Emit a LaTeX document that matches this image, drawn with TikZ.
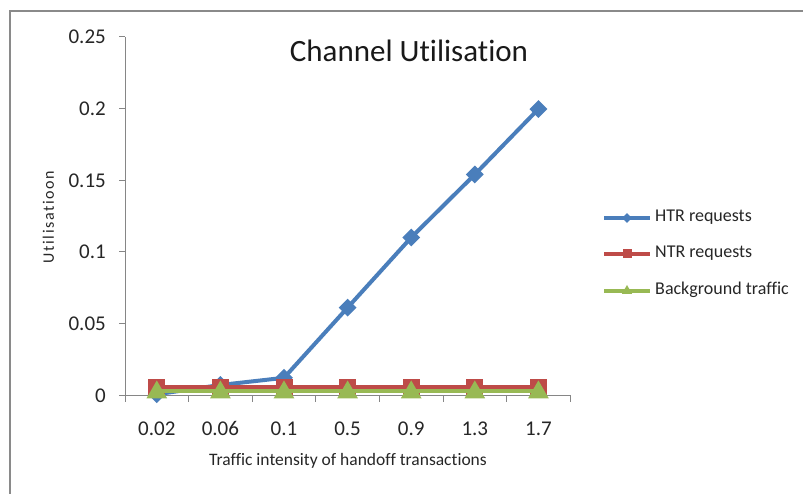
\documentclass[tikz,border=0pt]{standalone}
\usepackage{fontspec}
\setmainfont{Carlito}[Ligatures=NoCommon]
\usetikzlibrary{shapes.geometric,calc}
\definecolor{htr}{HTML}{4A7EBB}
\definecolor{ntr}{HTML}{BE4B48}
\definecolor{bgt}{HTML}{98B954}
\definecolor{axisgray}{HTML}{868686}
\definecolor{framegray}{HTML}{8A8A8A}
\begin{document}
\begin{tikzpicture}[x=1pt,y=-1pt,
  axisline/.style={draw=axisgray,line width=1pt},
  ticklab/.style={font=\fontsize{21}{24}\selectfont,text=black!85,inner sep=0pt},
  serline/.style={line width=4pt,line join=round},
  dmk/.style={diamond,aspect=1,fill=htr,inner sep=0pt,minimum width=18pt,minimum height=18pt},
  smk/.style={rectangle,fill=ntr,inner sep=0pt,minimum size=17pt},
  tmk/.style={regular polygon,regular polygon sides=3,fill=bgt,inner sep=0pt,minimum size=24pt},
  dmks/.style={diamond,aspect=1,fill=htr,inner sep=0pt,minimum width=10pt,minimum height=10pt},
  smks/.style={rectangle,fill=ntr,inner sep=0pt,minimum size=9pt},
  tmks/.style={regular polygon,regular polygon sides=3,fill=bgt,inner sep=0pt,minimum size=12pt},
  legtxt/.style={font=\fontsize{18}{21}\selectfont,anchor=west,inner sep=0pt,text=black!85}]
\useasboundingbox (0,0) rectangle (803,494);
% outer frame
\draw[framegray,line width=2pt] (10,494) -- (10,11) -- (803,11);
% title
\node[font=\fontsize{31}{35}\selectfont,text=black!90] (title) at (409,51) {Channel Utilisation};
% axes
\coordinate (o) at (125,395);
\coordinate (ytop) at (125,37);
\coordinate (xend) at (570,395);
\draw[axisline] (ytop) -- (o) -- (xend);
\foreach \v/\lab [count=\i] in {0/0,0.05/0.05,0.1/0.1,0.15/0.15,0.2/0.2,0.25/0.25}{
  \pgfmathsetmacro{\yy}{395-\v*1432}
  \draw[axisline] (119,\yy) -- (125,\yy);
  \node[ticklab,anchor=base east] (yl\i) at (106,\yy+7) {\lab};
}
\foreach \k in {0,...,7}{
  \pgfmathsetmacro{\xx}{125+63.6*\k}
  \draw[axisline] (\xx,395) -- (\xx,402);
}
\foreach \lab [count=\i] in {0.02,0.06,0.1,0.5,0.9,1.3,1.7}{
  \pgfmathsetmacro{\xx}{125+63.6*(\i-0.5)}
  \node[ticklab,anchor=base] (xl\i) at (\xx,435) {\lab};
}
% axis titles
\node[font=\fontsize{17.5}{20}\selectfont,text=black!85] (xtitle) at (348,461) {Traffic intensity of handoff transactions};
\node[font=\fontsize{16}{19}\selectfont\addfontfeature{LetterSpace=10},text=black!85,rotate=90] (ytitle) at (48.5,217) {Utilisatioon};
% data coordinates
\foreach \i/\h/\n/\b in {1/0.0005/0.0055/0.0025, 2/0.007/0.0055/0.0025, 3/0.012/0.0055/0.0025, 4/0.061/0.0055/0.0025, 5/0.110/0.0055/0.0025, 6/0.154/0.0055/0.0025, 7/0.1997/0.0055/0.0025}{
  \pgfmathsetmacro{\xx}{125+63.6*(\i-0.5)}
  \pgfmathsetmacro{\yh}{395-\h*1432}
  \pgfmathsetmacro{\yn}{395-\n*1432}
  \pgfmathsetmacro{\yb}{395-\b*1432}
  \coordinate (h\i) at (\xx,\yh);
  \coordinate (n\i) at (\xx,\yn);
  \coordinate (b\i) at (\xx,\yb);
}
% HTR series
\draw[serline,htr] (h1) -- (h2) -- (h3) -- (h4) -- (h5) -- (h6) -- (h7);
\foreach \i in {1,...,7}{\node[dmk] (hm\i) at (h\i) {};}
% NTR series
\draw[serline,ntr] (n1) -- (n2) -- (n3) -- (n4) -- (n5) -- (n6) -- (n7);
\foreach \i in {1,...,7}{\node[smk] (nm\i) at (n\i) {};}
% Background series
\draw[serline,bgt] (b1) -- (b2) -- (b3) -- (b4) -- (b5) -- (b6) -- (b7);
\foreach \i in {1,...,7}{\node[tmk] (bm\i) at ([yshift=-1pt]b\i) {};}
% legend
\coordinate (la1) at (604,218); \coordinate (lb1) at (650,218);
\coordinate (la2) at (604,254); \coordinate (lb2) at (650,254);
\coordinate (la3) at (604,291); \coordinate (lb3) at (650,291);
\draw[serline,htr] (la1) -- (lb1);
\node[dmks] (lm1) at ($(la1)!0.5!(lb1)$) {};
\draw[serline,ntr] (la2) -- (lb2);
\node[smks] (lm2) at ($(la2)!0.5!(lb2)$) {};
\draw[serline,bgt] (la3) -- (lb3);
\node[tmks] (lm3) at ($(la3)!0.5!(lb3)$) {};
\node[legtxt] (lt1) at (655,217) {HTR requests};
\node[legtxt] (lt2) at (655,253) {NTR requests};
\node[legtxt] (lt3) at (655,290) {Background traffic};
\end{tikzpicture}
\end{document}
